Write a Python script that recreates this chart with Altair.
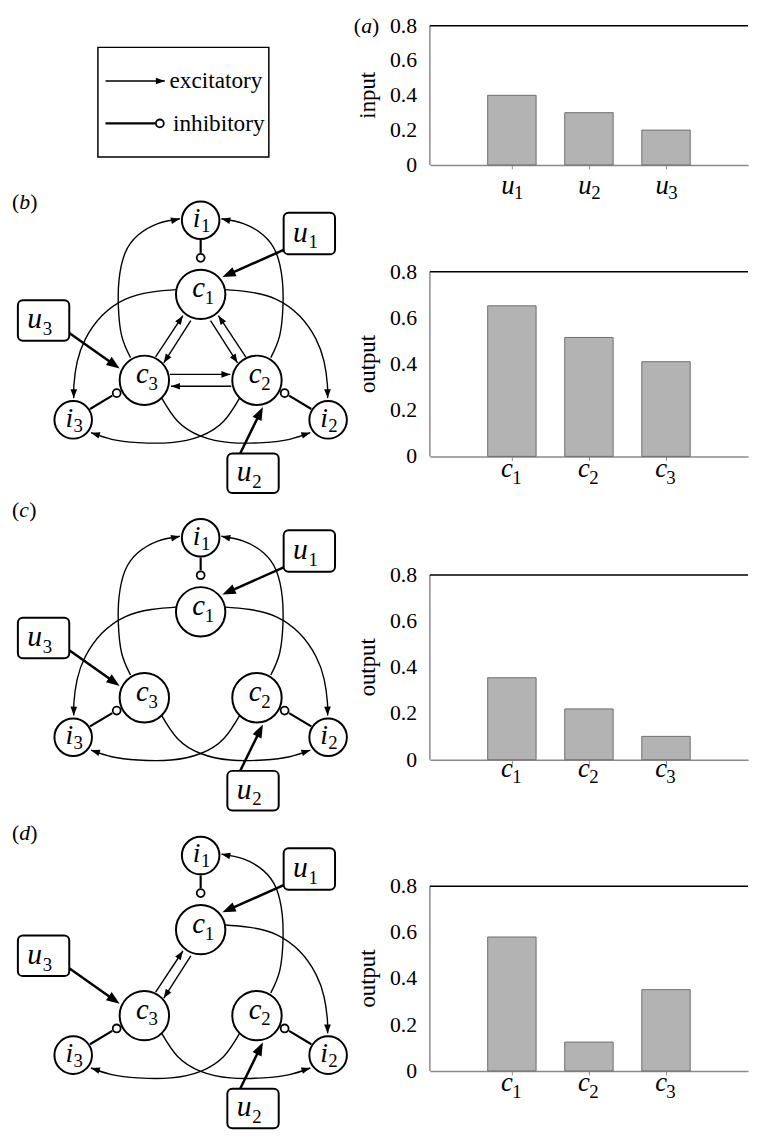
import math
import altair as alt
import pandas as pd

SERIF = "Liberation Serif"
GREY = "#8a8a8a"
BAR_FILL = "#b3b3b3"
BAR_STROKE = "#6e6e6e"

# ---------------- bar chart data ----------------
bar_pos = [1, 2, 3]
sub_digits = ["1", "2", "3"]
input_u = [0.40, 0.30, 0.20]
output_b = [0.652, 0.515, 0.410]
output_c = [0.355, 0.220, 0.101]
output_d = [0.580, 0.125, 0.352]
y_ticks = [0, 0.2, 0.4, 0.6, 0.8]
y_tick_labels = ["0", "0.2", "0.4", "0.6", "0.8"]

# ---------------- network diagram data (pixels relative to c1 centre, y downward) ----------------
c_node_x = [0, 57, -57]
c_node_y = [0, 87, 87]
i_node_x = [0, 129, -129]
i_node_y = [-75, 127, 127]
node_sub = ["1", "2", "3"]

box_x1 = [84, 27, -185]
box_x2 = [136, 79, -133]
box_y1 = [-82.5, 161, 6]
box_y2 = [-40.5, 201, 47]

dot_x = [0, -85, 85]
dot_y = [-37, 100, 100]

# edge: (x points, y points, kind)
EDGES = {
    "c1_i3": ([-22, -50, -76.6, -100, -116.6, -125, -128.3, -128.5],
              [-5, -2.3, 5, 21.7, 45, 68.4, 91.7, 105], "thin"),
    "c1_i2": ([22, 50, 76.6, 100, 116.6, 125, 128.3, 128.5],
              [-5, -2.3, 5, 21.7, 45, 68.4, 91.7, 105], "thin"),
    "c3_i1": ([-71, -80, -83.3, -82.6, -76.6, -63.3, -43.3, -21],
              [64, 41.7, 11.7, -15, -41.6, -60, -71.6, -76.5], "thin"),
    "c2_i1": ([71, 80, 83.3, 82.6, 76.6, 63.3, 43.3, 21],
              [64, 41.7, 11.7, -15, -41.6, -60, -71.6, -76.5], "thin"),
    "c3_i2": ([-40, -23.3, 0, 30, 63.4, 90, 111],
              [104, 128.4, 143.4, 150, 150, 146.7, 140], "thin"),
    "c2_i3": ([40, 23.3, 0, -30, -63.4, -90, -111],
              [104, 128.4, 143.4, 150, 150, 146.7, 140], "thin"),
    "c3_c1": ([-45.6, -18], [63.3, 21.6], "thin"),
    "c1_c3": ([-10, -37.3], [26.6, 69.3], "thin"),
    "c2_c1": ([45.6, 18], [63.3, 21.6], "thin"),
    "c1_c2": ([10, 37.3], [26.6, 69.3], "thin"),
    "c3_c2": ([-31, 30], [81, 81], "thin"),
    "c2_c3": ([31, -30], [93, 93], "thin"),
    "u1_c1": ([84, 22], [-45, -17.5], "thick"),
    "u3_c3": ([-133, -82], [39, 75], "thick"),
    "u2_c2": ([40, 63], [161, 114], "thick"),
    "i1_c1": ([0, 0], [-55, -42], "inh"),
    "i3_c3": ([-112, -89.5], [116, 102.5], "inh"),
    "i2_c2": ([112, 89.5], [116, 102.5], "inh"),
}
COMMON = ["u1_c1", "u3_c3", "u2_c2", "i1_c1", "i3_c3", "i2_c2"]
CURVES = ["c1_i3", "c1_i2", "c3_i1", "c2_i1", "c3_i2", "c2_i3"]
TRIANGLE = ["c3_c1", "c1_c3", "c2_c1", "c1_c2", "c3_c2", "c2_c3"]
edges_b = CURVES + TRIANGLE + COMMON
edges_c = CURVES + COMMON
edges_d = ["c1_i2", "c2_i1", "c3_i2", "c2_i3", "c3_c1", "c1_c3"] + COMMON

# legend (absolute page pixels)
legend_box = dict(x1=[99], x2=[272], y1=[47], y2=[158])
legend_exc_x = [106.7, 166.7]
legend_exc_y = [81, 81]
legend_inh_x = [106.7, 157]
legend_inh_y = [124, 124]
legend_dot = dict(x=[161.7], y=[124])
legend_text = dict(x=[171.5, 175], y=[88, 132], t=["excitatory", "inhibitory"])

STYLE = {"thin": (1.4, 81), "thick": (2.5, 180), "inh": (2.2, 0)}
ARROW = "M0,0L-2,-0.75L-2,0.75Z"


def edge_frames(keys, edges):
    rows, heads = [], []
    for k in keys:
        xs, ys, kind = edges[k]
        w, hs = STYLE[kind]
        pts = list(zip(xs, ys))
        if hs:
            (px, py), (tx, ty) = pts[-2], pts[-1]
            ang = math.degrees(math.atan2(ty - py, tx - px)) % 360
            heads.append({"x": tx, "y": ty, "ang": ang, "s": hs})
            if kind == "thick":
                L = math.hypot(tx - px, ty - py)
                back = math.sqrt(hs) * 0.6
                pts[-1] = (tx - (tx - px) / L * back, ty - (ty - py) / L * back)
        for i, (x, y) in enumerate(pts):
            rows.append({"edge": k, "seq": i, "x": x, "y": y, "w": w})
    return pd.DataFrame(rows), pd.DataFrame(heads)


def paren_label(letter, x, y, X, Y, letter_w):
    df = pd.DataFrame({"x": [x], "y": [y]})
    base = alt.Chart(df).encode(x=X("x:Q"), y=Y("y:Q"))
    lp = base.mark_text(text="(", font=SERIF, fontSize=22, align="left", baseline="middle", color="black")
    lt = base.mark_text(text=letter, font=SERIF, fontStyle="italic", fontSize=22, align="left",
                        baseline="middle", dx=7.5, color="black")
    rp = base.mark_text(text=")", font=SERIF, fontSize=22, align="left", baseline="middle",
                        dx=7.5 + letter_w, color="black")
    return [lp, lt, rp]


def diagram(edge_keys, lab, lab_x, lab_y, lab_w, top, height, c1_y, c1_x=203):
    xs = alt.Scale(domain=[8 - c1_x, 360 - c1_x], nice=False, zero=False)
    ys = alt.Scale(domain=[top - c1_y, top - c1_y + height], nice=False, zero=False, reverse=True)

    def X(f):
        return alt.X(f, scale=xs, axis=None)

    def Y(f):
        return alt.Y(f, scale=ys, axis=None)

    ldf, hdf = edge_frames(edge_keys, EDGES)
    lines = alt.Chart(ldf).mark_line(color="black", interpolate="natural", strokeCap="butt").encode(
        x=X("x:Q"), y=Y("y:Q"), detail="edge:N", order="seq:Q",
        strokeWidth=alt.StrokeWidth("w:Q", scale=None))
    heads = alt.Chart(hdf).mark_point(shape=ARROW, filled=True, color="black", opacity=1, strokeWidth=0).encode(
        x=X("x:Q"), y=Y("y:Q"), angle=alt.Angle("ang:Q", scale=None), size=alt.Size("s:Q", scale=None))

    bdf = pd.DataFrame({"x1": box_x1, "x2": box_x2, "y1": box_y1, "y2": box_y2, "sub": node_sub,
                        "cx": [(a + b) / 2 for a, b in zip(box_x1, box_x2)],
                        "cy": [(a + b) / 2 for a, b in zip(box_y1, box_y2)]})
    boxes = alt.Chart(bdf).mark_rect(fill="white", stroke="black", strokeWidth=2, cornerRadius=5).encode(
        x=X("x1:Q"), x2="x2:Q", y=Y("y1:Q"), y2="y2:Q")
    bl = alt.Chart(bdf).mark_text(text="u", font=SERIF, fontStyle="italic", fontSize=30, align="center",
                                  baseline="alphabetic", dx=-9, dy=8, color="black").encode(
        x=X("cx:Q"), y=Y("cy:Q"))
    bs = alt.Chart(bdf).mark_text(font=SERIF, fontSize=19, align="center", baseline="alphabetic",
                                  dx=4, dy=15, color="black").encode(x=X("cx:Q"), y=Y("cy:Q"), text="sub:N")

    cdf = pd.DataFrame({"x": c_node_x, "y": c_node_y, "sub": node_sub, "s": [2500] * 3})
    idf = pd.DataFrame({"x": i_node_x, "y": i_node_y, "sub": node_sub, "s": [1444] * 3})
    nodes = []
    for df in (cdf, idf):
        nodes.append(alt.Chart(df).mark_point(shape="circle", filled=True, fill="white", stroke="black",
                                              strokeWidth=2, opacity=1).encode(
            x=X("x:Q"), y=Y("y:Q"), size=alt.Size("s:Q", scale=None)))
    cl = alt.Chart(cdf).mark_text(text="c", font=SERIF, fontStyle="italic", fontSize=29, align="center",
                                  baseline="alphabetic", dx=-2, dy=3, color="black").encode(x=X("x:Q"), y=Y("y:Q"))
    cs = alt.Chart(cdf).mark_text(font=SERIF, fontSize=19, align="center", baseline="alphabetic",
                                  dx=9, dy=10, color="black").encode(x=X("x:Q"), y=Y("y:Q"), text="sub:N")
    il = alt.Chart(idf).mark_text(text="i", font=SERIF, fontStyle="italic", fontSize=28, align="center",
                                  baseline="alphabetic", dx=-4, dy=7, color="black").encode(x=X("x:Q"), y=Y("y:Q"))
    isub = alt.Chart(idf).mark_text(font=SERIF, fontSize=19, align="center", baseline="alphabetic",
                                    dx=5, dy=12, color="black").encode(x=X("x:Q"), y=Y("y:Q"), text="sub:N")

    ddf = pd.DataFrame({"x": dot_x, "y": dot_y})
    dots = alt.Chart(ddf).mark_point(shape="circle", filled=True, fill="white", stroke="black",
                                     strokeWidth=1.8, opacity=1, size=64).encode(x=X("x:Q"), y=Y("y:Q"))

    layers = [lines, boxes] + nodes + [dots, heads, bl, bs, cl, cs, il, isub]
    layers += paren_label(lab, lab_x, lab_y, X, Y, lab_w)
    return alt.layer(*layers).properties(width=352, height=height)


def legend_panel():
    xs = alt.Scale(domain=[8, 360], nice=False, zero=False)
    ys = alt.Scale(domain=[25, 174], nice=False, zero=False, reverse=True)

    def X(f):
        return alt.X(f, scale=xs, axis=None)

    def Y(f):
        return alt.Y(f, scale=ys, axis=None)

    box = alt.Chart(pd.DataFrame(legend_box)).mark_rect(filled=False, stroke="black", strokeWidth=1.5).encode(
        x=X("x1:Q"), x2="x2:Q", y=Y("y1:Q"), y2="y2:Q")
    edges = {"exc": (legend_exc_x, legend_exc_y, "thin"), "inh": (legend_inh_x, legend_inh_y, "inh")}
    ldf, hdf = edge_frames(["exc", "inh"], edges)
    lines = alt.Chart(ldf).mark_line(color="black", strokeCap="butt").encode(
        x=X("x:Q"), y=Y("y:Q"), detail="edge:N", order="seq:Q",
        strokeWidth=alt.StrokeWidth("w:Q", scale=None))
    heads = alt.Chart(hdf).mark_point(shape=ARROW, filled=True, color="black", opacity=1, strokeWidth=0).encode(
        x=X("x:Q"), y=Y("y:Q"), angle=alt.Angle("ang:Q", scale=None), size=alt.Size("s:Q", scale=None))
    dot = alt.Chart(pd.DataFrame(legend_dot)).mark_point(shape="circle", filled=True, fill="white",
                                                         stroke="black", strokeWidth=1.8, opacity=1,
                                                         size=64).encode(x=X("x:Q"), y=Y("y:Q"))
    txt = alt.Chart(pd.DataFrame(legend_text)).mark_text(font=SERIF, fontSize=23.5, align="left",
                                                         baseline="alphabetic", color="black").encode(
        x=X("x:Q"), y=Y("y:Q"), text="t:N")
    layers = [box, lines, heads, dot, txt] + paren_label("a", 358, 25, X, Y, 11)
    return alt.layer(*layers).properties(width=352, height=149)


def bar_panel(values, letter, title, height, dy_letter, dy_sub, dx_letter, dx_sub):
    df = pd.DataFrame({"pos": bar_pos, "value": values, "letter": [letter] * 3, "sub": sub_digits})
    xs = alt.Scale(domain=[0, 4], nice=False, zero=False)
    ys = alt.Scale(domain=[0, 0.8], nice=False)
    xax = alt.Axis(values=bar_pos, labels=False, title=None, grid=False, ticks=True, tickSize=4,
                   tickColor=GREY, domainColor=GREY, domainWidth=1.5)
    base = alt.Chart(df)
    bars = base.mark_bar(size=49, fill=BAR_FILL, stroke=BAR_STROKE, strokeWidth=1).encode(
        x=alt.X("pos:Q", scale=xs, axis=xax), y=alt.Y("value:Q", scale=ys, axis=None))
    # left axis line, top frame line
    one = pd.DataFrame({"lo": [0.0], "hi": [0.8], "mid": [0.4], "t": [title]})
    yline = alt.Chart(one).mark_rule(color=GREY, strokeWidth=1.5).encode(
        x=alt.value(0), y=alt.Y("lo:Q", scale=ys, axis=None), y2="hi:Q")
    top = alt.Chart(one).mark_rule(color="black", strokeWidth=1.5).encode(
        y=alt.Y("hi:Q", scale=ys, axis=None))
    ytitle = alt.Chart(one).mark_text(font=SERIF, fontSize=23, angle=270, align="center",
                                      baseline="middle", color="black").encode(
        x=alt.value(-63), y=alt.Y("mid:Q", scale=ys, axis=None), text="t:N")
    tdf = pd.DataFrame({"value": y_ticks, "t": y_tick_labels})
    ticks = alt.Chart(tdf).mark_text(font=SERIF, fontSize=22, align="right", baseline="middle",
                                     color="black").encode(
        x=alt.value(-13), y=alt.Y("value:Q", scale=ys, axis=None), text="t:N")
    zero = pd.DataFrame({"pos": bar_pos, "z": [0.0] * 3, "letter": [letter] * 3, "sub": sub_digits})
    lt = alt.Chart(zero).mark_text(font=SERIF, fontStyle="italic", fontSize=27, baseline="alphabetic",
                                   align="center", dx=dx_letter, dy=dy_letter, color="black").encode(
        x=alt.X("pos:Q", scale=xs), y=alt.Y("z:Q", scale=ys, axis=None), text="letter:N")
    st = alt.Chart(zero).mark_text(font=SERIF, fontSize=19, baseline="alphabetic", align="center",
                                   dx=dx_sub, dy=dy_sub, color="black").encode(
        x=alt.X("pos:Q", scale=xs), y=alt.Y("z:Q", scale=ys, axis=None), text="sub:N")
    return alt.layer(bars, yline, top, ticks, ytitle, lt, st).properties(width=322, height=height)


panel_a = bar_panel(input_u, "u", "input", 141, 29, 34, -4, 7)
panel_b = bar_panel(output_b, "c", "output", 187, 21, 28, -5, 5)
panel_c = bar_panel(output_c, "c", "output", 187, 17, 23.5, -5, 5)
panel_d = bar_panel(output_d, "c", "output", 187, 20, 27, -5, 5)

diag_b = diagram(edges_b, "b", -191, -93, 11, 274, 207, 297)
diag_c = diagram(edges_c, "c", -191, -103, 10, 581, 215, 618.3)
diag_d = diagram(edges_d, "d", -191, -98, 11, 896, 187, 940)

chart = alt.concat(
    legend_panel(), panel_a,
    diag_b, panel_b,
    diag_c, panel_c,
    diag_d, panel_d,
    columns=2,
    spacing=alt.RowColnumber(row=100, column=75),
    align="each",
    bounds="flush",
).properties(
    padding={"left": 0, "top": 0, "right": 0, "bottom": 0}
).configure_view(strokeWidth=0)

chart.save("out.html", embed_options={"renderer": "svg", "actions": False})
